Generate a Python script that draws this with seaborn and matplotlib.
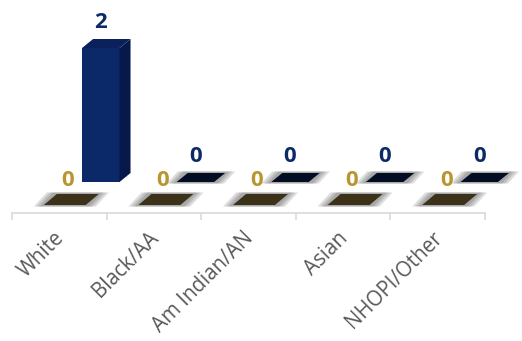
import matplotlib
matplotlib.use('Agg')
import matplotlib.pyplot as plt
from matplotlib.patches import Polygon
from matplotlib.transforms import ScaledTranslation
import seaborn as sns

# data
categories = ['White', 'Black/AA', 'Am Indian/AN', 'Asian', 'NHOPI/Other']
navy_values = [2, 0, 0, 0, 0]   # back row
gold_values = [0, 0, 0, 0, 0]   # front row

sns.set_style('white')
plt.rcParams['font.family'] = ['Open Sans', 'DejaVu Sans']

DPI = 100
fig = plt.figure(figsize=(5.22, 3.41), dpi=DPI)
ax = fig.add_axes([12 / 522, 128 / 341, 473 / 522, 208 / 341])
ax.set_xlim(-0.5, 4.5)
ax.set_ylim(-31 / 67, 177 / 67)

PX_X = 473 / 5.0   # pixels per category
PX_Y = 67.0        # pixels per value unit


def shift(dx, dy):
    # data transform moved by a pixel offset (fake 3d depth rows)
    return ax.transData + ScaledTranslation(dx / DPI, dy / DPI, fig.dpi_scale_trans)


def shadow(pts, tr):
    cx = sum(p[0] for p in pts) / 4
    cy = sum(p[1] for p in pts) / 4
    for e in (10, 7, 4):
        ex, ey = e / PX_X, 1.5 / PX_Y
        grown = [(x + (ex if x > cx else -ex), y + (ey if y > cy else -ey)) for x, y in pts]
        ax.add_patch(Polygon(grown, closed=True, color='#303030', alpha=0.16,
                             lw=0, transform=tr, zorder=0.5, clip_on=False))


# rows: values, colors, width, row offset (px), depth (px), label offset (px)
rows = [
    dict(values=navy_values, front='#0b2868', side='#06194a', top='#0a215c',
         flat='#020c22', text='#0b2a66', width=0.396, off=(41.5, 0),
         depth=(11, 9), lab=(0, 26)),
    dict(values=gold_values, front='#b8962e', side='#8a6f1f', top='#a6862a',
         flat='#3b3219', text='#b8952f', width=0.444, off=(5.5, -23),
         depth=(13, 11), lab=(3, 25)),
]

for row in rows:
    n0 = len(ax.patches)
    sns.barplot(x=categories, y=row['values'], color=row['front'], width=row['width'],
                saturation=1, linewidth=0, errorbar=None, ax=ax)
    ax.set_xlim(-0.5, 4.5)
    ax.set_ylim(-31 / 67, 177 / 67)
    tr = shift(*row['off'])
    ddx, ddy = row['depth'][0] / PX_X, row['depth'][1] / PX_Y
    for bar, v in zip(ax.patches[n0:], row['values']):
        bar.set_transform(tr)
        bar.set_zorder(2)
        bar.set_clip_on(False)
        x0, w, h = bar.get_x(), bar.get_width(), bar.get_height()
        top = [(x0, h), (x0 + w, h), (x0 + w + ddx, h + ddy), (x0 + ddx, h + ddy)]
        if h == 0:
            shadow(top, tr)
            ax.add_patch(Polygon(top, closed=True, color=row['flat'], lw=0,
                                 transform=tr, zorder=2, clip_on=False))
        else:
            side = [(x0 + w, 0), (x0 + w + ddx, ddy), (x0 + w + ddx, h + ddy), (x0 + w, h)]
            ax.add_patch(Polygon(side, closed=True, color=row['side'], lw=0,
                                 transform=tr, zorder=2, clip_on=False))
            ax.add_patch(Polygon(top, closed=True, color=row['top'], lw=0,
                                 transform=tr, zorder=2, clip_on=False))
        ax.text(x0 + w / 2, h, f'{v:g}', transform=shift(row['off'][0] + row['lab'][0],
                                                         row['off'][1] + row['lab'][1]),
                ha='center', va='center', fontsize=16, fontweight='bold',
                color=row['text'], zorder=3)

# axis styling
ax.set_xlabel('')
ax.set_ylabel('')
ax.set_yticks([])
for s in ('top', 'left', 'right'):
    ax.spines[s].set_visible(False)
ax.spines['bottom'].set_color('#d9d9d9')
ax.spines['bottom'].set_linewidth(1.2)
ax.set_xticks(range(len(categories)))
ax.set_xticklabels(categories, rotation=45, ha='right', va='center',
                   rotation_mode='anchor', color='#595959', fontsize=14.8)
ax.set_xticks([i - 0.5 for i in range(len(categories) + 1)], minor=True)
ax.tick_params(axis='x', which='major', bottom=True, length=0, pad=16)
ax.tick_params(axis='x', which='minor', bottom=True, length=5, width=1.2,
               color='#d9d9d9', direction='out')
for lbl in ax.get_xticklabels():
    lbl.set_transform(lbl.get_transform() + ScaledTranslation(2 / DPI, 0, fig.dpi_scale_trans))

fig.savefig('out.png', dpi=DPI)
